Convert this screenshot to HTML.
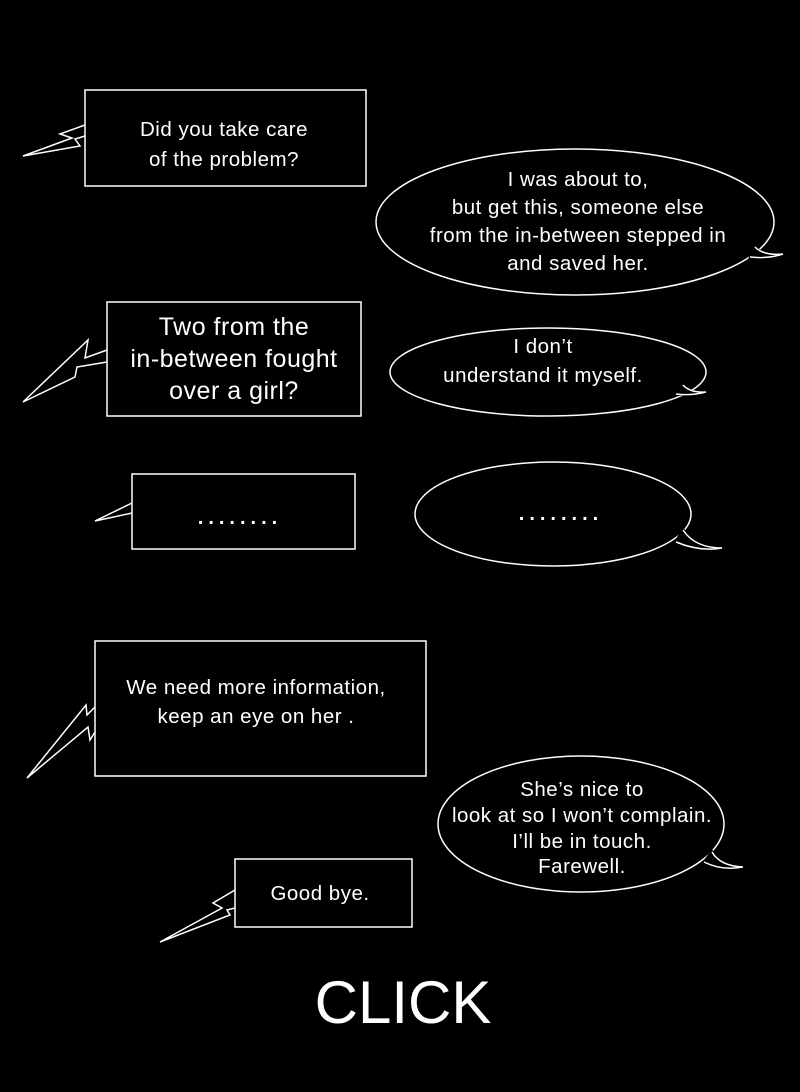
<!DOCTYPE html>
<html><head><meta charset="utf-8"><style>
html,body{margin:0;padding:0;background:#000;}
svg{display:block}
text{font-family:"Liberation Sans",sans-serif;fill:#fff;text-anchor:middle;font-size:20.5px;letter-spacing:0.5px}
.s{fill:#000;stroke:#fff;stroke-width:1.5}
.l{fill:none;stroke:#fff;stroke-width:1.5}
.f{fill:#000;stroke:none}
.d{font-weight:bold;letter-spacing:5px;font-size:20px}
</style></head><body>
<svg width="800" height="1092" viewBox="0 0 800 1092" xmlns="http://www.w3.org/2000/svg">
<rect width="800" height="1092" fill="#000"/>
<!-- box 1 -->
<polyline class="l" points="85,125 60,134 72,138 23,156 80,146 75,139 85,136"/>
<rect class="s" x="85" y="90" width="281" height="96"/>
<text x="224" y="136">Did you take care</text>
<text x="224" y="166">of the problem?</text>
<!-- ellipse 2 -->
<ellipse class="s" cx="575" cy="222" rx="199" ry="73"/>
<path class="f" d="M755,245 Q764,256 783,254 Q768,259 748,259 Z"/>
<path class="l" d="M755,247 Q764,256 783,254 Q768,259 750,257"/>
<text x="578" y="186">I was about to,</text>
<text x="578" y="214">but get this, someone else</text>
<text x="578" y="242">from the in-between stepped in</text>
<text x="578" y="270">and saved her.</text>
<!-- box 3 -->
<polyline class="l" points="107,350 85,358 88,340 23,402 75,377 77,367 107,362"/>
<rect class="s" x="107" y="302" width="254" height="114"/>
<text x="234" y="335" style="font-size:25px">Two from the</text>
<text x="234" y="367" style="font-size:25px">in-between fought</text>
<text x="234" y="399" style="font-size:25px">over a girl?</text>
<!-- ellipse 4 -->
<ellipse class="s" cx="548" cy="372" rx="158" ry="44"/>
<path class="f" d="M683,383 Q690,393 706,392 Q690,396 674,396 Z"/>
<path class="l" d="M683,385 Q690,393 706,392 Q690,396 676,394"/>
<text x="543" y="353">I don’t</text>
<text x="543" y="382">understand it myself.</text>
<!-- box 5 -->
<polyline class="l" points="132,503 95,521 132,513"/>
<rect class="s" x="132" y="474" width="223" height="75"/>
<text class="d" x="240" y="524">........</text>
<!-- ellipse 6 -->
<ellipse class="s" cx="553" cy="514" rx="138" ry="52"/>
<path class="f" d="M683,527 Q695,548 722,548 Q700,552 673,544 Z"/>
<path class="l" d="M683,530 Q695,548 722,548 Q700,552 676,542"/>
<text class="d" x="561" y="520">........</text>
<!-- box 7 -->
<polyline class="l" points="95,707 87,715 86,705 27,778 88,727 90,740 95,732"/>
<rect class="s" x="95" y="641" width="331" height="135"/>
<text x="256" y="694">We need more information,</text>
<text x="256" y="723">keep an eye on her .</text>
<!-- ellipse 8 -->
<ellipse class="s" cx="581" cy="824" rx="143" ry="68"/>
<path class="f" d="M712,849 Q720,866 743,867 Q722,871 701,864 Z"/>
<path class="l" d="M712,852 Q720,866 743,867 Q722,871 704,862"/>
<text x="582" y="796">She’s nice to</text>
<text x="582" y="822">look at so I won’t complain.</text>
<text x="582" y="848">I’ll be in touch.</text>
<text x="582" y="873">Farewell.</text>
<!-- box 9 -->
<polyline class="l" points="235,890 213,903 222,908 160,942 230,915 227,910 235,908"/>
<rect class="s" x="235" y="859" width="177" height="68"/>
<text x="320" y="900">Good bye.</text>
<!-- CLICK -->
<text x="403" y="1023" style="font-size:60px;letter-spacing:0">CLICK</text>
</svg>
</body></html>
